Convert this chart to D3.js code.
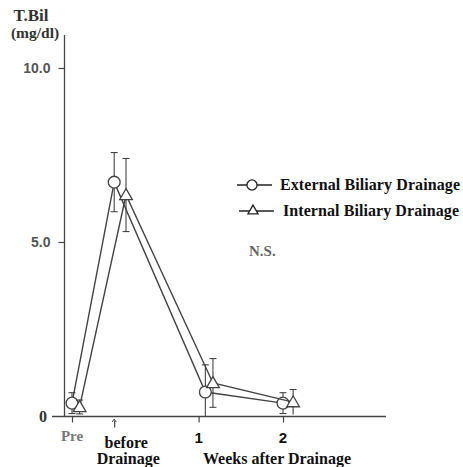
<!DOCTYPE html>
<html>
<head>
<meta charset="utf-8">
<script src="https://cdn.jsdelivr.net/npm/d3@7"></script>
<style>
  body { margin: 0; background: #fff; }
  svg { display: block; }
</style>
</head>
<body>
<div id="chartContainer"></div>
<script>
// Data (T.Bil, mg/dl; x in weeks after drainage)
const timeLabels = ["Pre", "before", "1", "2"];
const timeTicks = [-0.5, 0, 1, 2];

const externalX = [-0.5, 0, 1.08, 2];
const externalMean = [0.37, 6.72, 0.69, 0.37];
const externalSD = [0.3, 0.85, 0.78, 0.3];

const internalX = [-0.41, 0.14, 1.17, 2.12];
const internalMean = [0.26, 6.35, 0.95, 0.4];
const internalSD = [0.2, 1.05, 0.7, 0.36];

const yTicks = [0, 5, 10];
const yTickLabels = ["0", "5.0", "10.0"];

const width = 463;
const height = 467;

const x = d3.scaleLinear([-0.5, 2], [72, 283]);
const y = d3.scaleLinear([0, 10], [416, 68]);

const ink = "#444";
const serif = "'Liberation Serif', 'DejaVu Serif', serif";
const sans = "'Liberation Sans', Arial, sans-serif";

const svg = d3.create("svg")
  .attr("width", width)
  .attr("height", height)
  .attr("viewBox", [0, 0, width, height]);

// axes lines (extend past the data range like the original)
svg.append("line")
  .attr("x1", 64.5).attr("x2", 64.5)
  .attr("y1", 35).attr("y2", y(0) + 1)
  .attr("stroke", ink).attr("stroke-width", 1.3);

svg.append("line")
  .attr("x1", 52).attr("x2", 386)
  .attr("y1", y(0) + 0.5).attr("y2", y(0) + 0.5)
  .attr("stroke", ink).attr("stroke-width", 1.3);

// y axis ticks
const yAxis = svg.append("g")
  .attr("transform", "translate(64.5,0)")
  .call(d3.axisLeft(y).tickValues(yTicks.filter(d => d > 0)).tickSize(6)
    .tickFormat(d => yTickLabels[yTicks.indexOf(d)]));
yAxis.select(".domain").remove();
yAxis.selectAll(".tick line").attr("stroke", ink).attr("stroke-width", 1.2);
yAxis.selectAll(".tick text")
  .attr("x", -14)
  .attr("fill", "#555")
  .attr("font-family", sans)
  .attr("font-weight", "bold")
  .attr("font-size", 14);

svg.append("text")
  .attr("x", 47).attr("y", y(0) + 6)
  .attr("text-anchor", "end")
  .attr("fill", "#333")
  .attr("font-family", serif)
  .attr("font-weight", "bold")
  .attr("font-size", 16)
  .text(yTickLabels[0]);

// y axis title
svg.append("text")
  .attr("x", 31).attr("y", 21)
  .attr("text-anchor", "middle")
  .attr("fill", "#333")
  .attr("font-family", serif)
  .attr("font-weight", "bold")
  .attr("font-size", 17)
  .text("T.Bil");
svg.append("text")
  .attr("x", 35).attr("y", 38)
  .attr("text-anchor", "middle")
  .attr("fill", "#333")
  .attr("font-family", serif)
  .attr("font-weight", "bold")
  .attr("font-size", 15.5)
  .text("(mg/dl)");

// x axis ticks
const xAxis = svg.append("g")
  .attr("transform", `translate(0,${y(0) + 0.5})`)
  .call(d3.axisBottom(x).tickValues(timeTicks).tickSize(6).tickFormat(""));
xAxis.select(".domain").remove();
xAxis.selectAll(".tick line").attr("stroke", ink).attr("stroke-width", 1.2);
// small arrow head on the "before" tick
svg.append("path")
  .attr("d", `M${x(0) - 2},${y(0) + 6} L${x(0)},${y(0) + 3} L${x(0) + 2},${y(0) + 6}`)
  .attr("fill", "none").attr("stroke", ink).attr("stroke-width", 1);
xAxis.selectAll(".tick line").filter(d => d === 0)
  .attr("y1", 4).attr("y2", 11);

// x tick labels
svg.append("text")
  .attr("x", x(-0.5)).attr("y", 441)
  .attr("text-anchor", "middle")
  .attr("fill", "#777")
  .attr("font-family", serif).attr("font-weight", "bold").attr("font-size", 15)
  .text(timeLabels[0]);
svg.append("text")
  .attr("x", x(0) + 12).attr("y", 448)
  .attr("text-anchor", "middle")
  .attr("fill", "#111")
  .attr("font-family", serif).attr("font-weight", "bold").attr("font-size", 16)
  .text(timeLabels[1]);
svg.append("text")
  .attr("x", x(0) + 14).attr("y", 464)
  .attr("text-anchor", "middle")
  .attr("fill", "#111")
  .attr("font-family", serif).attr("font-weight", "bold").attr("font-size", 16)
  .text("Drainage");
[1, 2].forEach(t => {
  svg.append("text")
    .attr("x", x(t)).attr("y", 443)
    .attr("text-anchor", "middle")
    .attr("fill", "#111")
    .attr("font-family", sans).attr("font-weight", "bold").attr("font-size", 15)
    .text(timeLabels[timeTicks.indexOf(t)]);
});
svg.append("text")
  .attr("x", 277).attr("y", 464)
  .attr("text-anchor", "middle")
  .attr("fill", "#111")
  .attr("font-family", serif).attr("font-weight", "bold").attr("font-size", 16)
  .text("Weeks after Drainage");

// series
const series = [
  {name: "External Biliary Drainage", xs: externalX, mean: externalMean, sd: externalSD, shape: "circle"},
  {name: "Internal Biliary Drainage", xs: internalX, mean: internalMean, sd: internalSD, shape: "triangle"}
];

const symbolPath = (shape) => shape === "circle"
  ? d3.symbol(d3.symbolCircle, 110)()
  : d3.symbol(d3.symbolTriangle, 70)();

const line = d3.line()
  .x(d => x(d.x))
  .y(d => y(d.m));

series.forEach(s => {
  const pts = s.xs.map((v, i) => ({x: v, m: s.mean[i], sd: s.sd[i]}));
  const g = svg.append("g");

  // error bars
  const eb = g.selectAll(".eb").data(pts).join("g");
  eb.append("line")
    .attr("x1", d => x(d.x)).attr("x2", d => x(d.x))
    .attr("y1", d => y(d.m + d.sd))
    .attr("y2", d => y(Math.max(0, d.m - d.sd)))
    .attr("stroke", ink).attr("stroke-width", 1.1);
  eb.append("line")
    .attr("x1", d => x(d.x) - 3.5).attr("x2", d => x(d.x) + 3.5)
    .attr("y1", d => y(d.m + d.sd)).attr("y2", d => y(d.m + d.sd))
    .attr("stroke", ink).attr("stroke-width", 1.1);
  eb.filter(d => d.m - d.sd > 0.05).append("line")
    .attr("x1", d => x(d.x) - 3.5).attr("x2", d => x(d.x) + 3.5)
    .attr("y1", d => y(d.m - d.sd)).attr("y2", d => y(d.m - d.sd))
    .attr("stroke", ink).attr("stroke-width", 1.1);

  g.append("path")
    .attr("d", line(pts))
    .attr("fill", "none")
    .attr("stroke", ink)
    .attr("stroke-width", 1.4);

  g.selectAll(".pt").data(pts).join("path")
    .attr("transform", d => `translate(${x(d.x)},${y(d.m) + (s.shape === "triangle" ? 1 : 0)})`)
    .attr("d", symbolPath(s.shape))
    .attr("fill", "#fff")
    .attr("stroke", ink)
    .attr("stroke-width", 1.3);
});

// legend
const legend = svg.append("g");
series.forEach((s, i) => {
  const ly = 185 + i * 26;
  const lx = i === 0 ? 237 : 239;
  const lg = legend.append("g").attr("transform", `translate(${lx},${ly})`);
  lg.append("line")
    .attr("x1", 0).attr("x2", 35)
    .attr("stroke", "#222").attr("stroke-width", 1.4);
  lg.append("path")
    .attr("transform", `translate(${i === 0 ? 15 : 14},0)`)
    .attr("d", i === 0 ? d3.symbol(d3.symbolCircle, 80)() : d3.symbol(d3.symbolTriangle, 45)())
    .attr("fill", "#fff").attr("stroke", "#222").attr("stroke-width", 1.3);
  lg.append("text")
    .attr("x", i === 0 ? 43 : 44).attr("y", 5)
    .attr("fill", "#111")
    .attr("font-family", serif).attr("font-weight", "bold").attr("font-size", 16)
    .attr("textLength", i === 0 ? 180 : 176)
    .text(s.name);
});

svg.append("text")
  .attr("x", 249).attr("y", 256)
  .attr("fill", "#666")
  .attr("font-family", serif)
  .attr("font-weight", "bold")
  .attr("font-size", 15)
  .text("N.S.");

document.getElementById("chartContainer").append(svg.node());
</script>
</body>
</html>
